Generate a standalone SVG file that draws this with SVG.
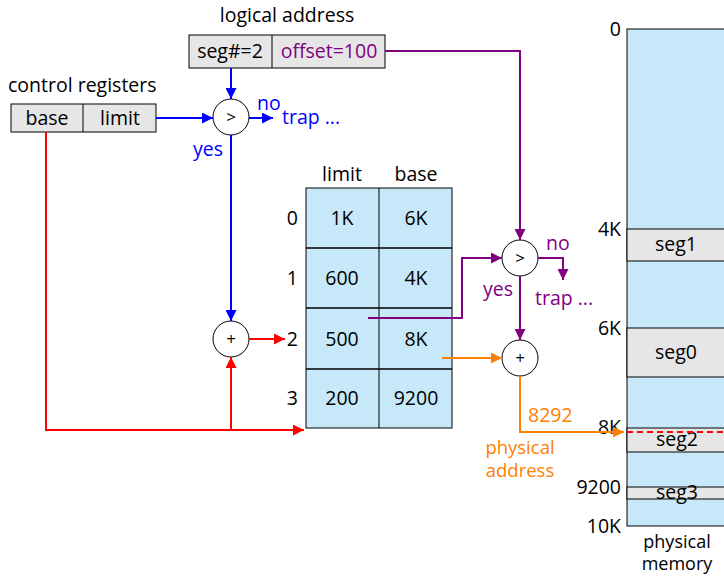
<svg xmlns="http://www.w3.org/2000/svg" width="724" height="576" viewBox="0 0 724 576">
<style>
text{font-family:"Open Sans","Noto Sans","DejaVu Sans",sans-serif;font-size:19.5px;fill:#000}
.c{text-anchor:middle}
.r{text-anchor:end}
.two{font-size:18.5px}
.mem{font-size:18px}
.box{fill:#e6e6e6;stroke:#000;stroke-width:1}
.cell{fill:#c6e8f8;stroke:#000;stroke-width:1}
.circ{fill:#fff;stroke:#000;stroke-width:1}
.sym{font-size:17px}
.bl{stroke:#0000ff;stroke-width:2;fill:none}
.pu{stroke:#800080;stroke-width:2;fill:none}
.rd{stroke:#ff0000;stroke-width:2;fill:none}
.or{stroke:#ff8000;stroke-width:2;fill:none}
.tb{fill:#0000ff}.tp{fill:#800080}.to{fill:#ff8000}
</style>
<defs>
<marker id="ab" viewBox="0 0 10 10" refX="10" refY="5" markerWidth="5.5" markerHeight="5.5" orient="auto"><path d="M0,0L10,5L0,10z" fill="#0000ff"/></marker>
<marker id="ap" viewBox="0 0 10 10" refX="10" refY="5" markerWidth="5.5" markerHeight="5.5" orient="auto"><path d="M0,0L10,5L0,10z" fill="#800080"/></marker>
<marker id="ar" viewBox="0 0 10 10" refX="10" refY="5" markerWidth="5.5" markerHeight="5.5" orient="auto"><path d="M0,0L10,5L0,10z" fill="#ff0000"/></marker>
<marker id="ao" viewBox="0 0 10 10" refX="10" refY="5" markerWidth="5.5" markerHeight="5.5" orient="auto"><path d="M0,0L10,5L0,10z" fill="#ff8000"/></marker>
</defs>

<g id="memory">
<rect class="cell" x="627" y="29" width="110" height="497"/>
<rect class="box" x="627" y="229" width="110" height="32"/>
<rect class="box" x="627" y="328" width="110" height="49"/>
<rect class="box" x="627" y="428" width="110" height="24"/>
<rect class="box" x="627" y="487" width="110" height="12"/>
<text class="c" x="676" y="251">seg1</text>
<text class="c" x="676" y="359">seg0</text>
<text class="c" x="677" y="446">seg2</text>
<text class="c" x="677" y="499">seg3</text>
<text class="r" x="621" y="36">0</text>
<text class="r" x="621" y="236">4K</text>
<text class="r" x="621" y="335">6K</text>
<text class="r" x="621" y="434">8K</text>
<text class="r" x="621" y="494">9200</text>
<text class="r" x="621" y="533">10K</text>
<text class="c mem" x="677" y="548">physical</text>
<text class="c mem" x="677" y="570">memory</text>
<line x1="627" y1="432" x2="724" y2="432" stroke="#ff0000" stroke-width="2" stroke-dasharray="6,4"/>
</g>

<g id="logical-address">
<text class="c" x="287" y="22">logical address</text>
<rect class="box" x="189" y="35" width="196" height="33"/>
<line x1="272" y1="35" x2="272" y2="68" stroke="#000"/>
<text class="c" x="230" y="58">seg#=2</text>
<text class="c tp" x="329" y="58">offset=100</text>
</g>

<g id="control-registers">
<text x="8" y="92">control registers</text>
<rect class="box" x="11" y="104" width="145" height="28"/>
<line x1="83" y1="104" x2="83" y2="132" stroke="#000"/>
<text class="c" x="47" y="125">base</text>
<text class="c" x="120" y="125">limit</text>
</g>

<g id="segment-table">
<text class="c" x="342" y="181">limit</text>
<text class="c" x="416" y="181">base</text>
<rect class="cell" x="306" y="188" width="146" height="240"/>
<line x1="379" y1="188" x2="379" y2="428" stroke="#000"/>
<line x1="306" y1="248" x2="452" y2="248" stroke="#000" stroke-width="1.5"/>
<line x1="306" y1="308" x2="452" y2="308" stroke="#000" stroke-width="1.5"/>
<line x1="306" y1="369" x2="452" y2="369" stroke="#000" stroke-width="1.5"/>
<text class="c" x="342" y="225">1K</text><text class="c" x="416" y="225">6K</text>
<text class="c" x="342" y="285">600</text><text class="c" x="416" y="285">4K</text>
<text class="c" x="342" y="346">500</text><text class="c" x="416" y="346">8K</text>
<text class="c" x="342" y="405">200</text><text class="c" x="416" y="405">9200</text>
<text class="r" x="298" y="225">0</text>
<text class="r" x="298" y="285">1</text>
<text class="r" x="298" y="346">2</text>
<text class="r" x="298" y="405">3</text>
</g>

<g id="compare1">
<circle class="circ" cx="231" cy="117" r="18"/>
<text class="c sym" x="231" y="123">&gt;</text>
</g>
<g id="add1">
<circle class="circ" cx="231" cy="339" r="18"/>
<text class="c sym" x="231" y="345">+</text>
</g>
<g id="compare2">
<circle class="circ" cx="520" cy="258" r="18"/>
<text class="c sym" x="520" y="264">&gt;</text>
</g>
<g id="add2">
<circle class="circ" cx="520" cy="358" r="18"/>
<text class="c sym" x="520" y="364">+</text>
</g>

<g id="connectors">
<path class="bl" d="M231,68V99" marker-end="url(#ab)"/>
<path class="bl" d="M156,118H213" marker-end="url(#ab)"/>
<path class="bl" d="M249,118H273" marker-end="url(#ab)"/>
<path class="bl" d="M231,135V321" marker-end="url(#ab)"/>
<path class="rd" d="M46,132V430H304" marker-end="url(#ar)"/>
<path class="rd" d="M231,430V357" marker-end="url(#ar)"/>
<path class="rd" d="M249,339H285" marker-end="url(#ar)"/>
<path class="pu" d="M385,51H520V240" marker-end="url(#ap)"/>
<path class="pu" d="M368,318H462V258H502" marker-end="url(#ap)"/>
<path class="pu" d="M538,258H563V280" marker-end="url(#ap)"/>
<path class="pu" d="M520,276V340" marker-end="url(#ap)"/>
<path class="or" d="M442,358H502" marker-end="url(#ao)"/>
<path class="or" d="M520,376V432H624" marker-end="url(#ao)"/>
</g>

<g id="labels">
<text class="tb" x="257" y="110">no</text>
<text class="tb" x="282" y="124">trap ...</text>
<text class="tb" x="193" y="156">yes</text>
<text class="tp" x="546" y="250">no</text>
<text class="tp" x="535" y="305">trap ...</text>
<text class="tp" x="483" y="296">yes</text>
<text class="to" x="528" y="422">8292</text>
<text class="c to two" x="520" y="454">physical</text>
<text class="c to two" x="520" y="477">address</text>
</g>
</svg>
